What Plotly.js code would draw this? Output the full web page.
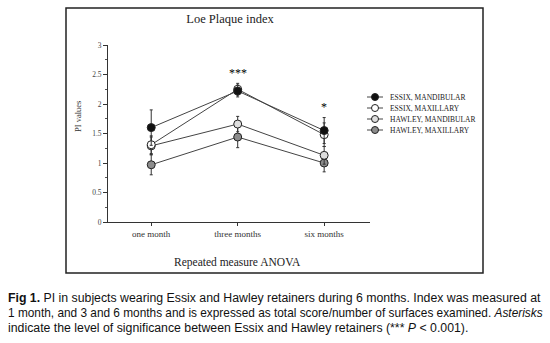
<!DOCTYPE html>
<html>
<head>
<meta charset="utf-8">
<script src="https://cdn.plot.ly/plotly-3.0.1.min.js"></script>
<style>html,body{margin:0;padding:0;background:#fff;}#chart{width:550px;height:343px;}</style>
</head>
<body>
<div id="chart"></div>
<script>
// ---- data ----
const categories = ["one month", "three months", "six months"];
const seriesNames = ["ESSIX, MANDIBULAR", "ESSIX, MAXILLARY", "HAWLEY, MANDIBULAR", "HAWLEY, MAXILLARY"];
const essixMandibular = [1.60, 2.22, 1.55];
const essixMaxillary = [1.31, 2.25, 1.48];
const hawleyMandibular = [1.29, 1.66, 1.13];
const hawleyMaxillary = [0.97, 1.44, 1.00];
const essixMandibularErr = [0.30, 0.10, 0.22];
const essixMaxillaryErr = [0.15, 0.10, 0.20];
const hawleyMandibularErr = [0.15, 0.13, 0.15];
const hawleyMaxillaryErr = [0.17, 0.18, 0.15];
const significance = [{cat: "three months", label: "***", y: 2.53}, {cat: "six months", label: "*", y: 1.95}];
const yTickVals = [0, 0.5, 1, 1.5, 2, 2.5, 3];
const yTickText = ["0", "0.5", "1", "1.5", "2", "2.5", "3"];

const values = [essixMandibular, essixMaxillary, hawleyMandibular, hawleyMaxillary];
const errors = [essixMandibularErr, essixMaxillaryErr, hawleyMandibularErr, hawleyMaxillaryErr];
const fills = ["#111111", "#ffffff", "#dedede", "#8c8c8c"];

// ---- layout geometry ----
const W = 550, H = 343;
const M = {l: 108, r: 180, t: 45, b: 121};
const PW = W - M.l - M.r, PH = H - M.t - M.b;
const px = x => (x - M.l) / PW;
const py = y => (H - M.b - y) / PH;

const serif = "Liberation Serif, Times New Roman, serif";
const sans = "Liberation Sans, Arial, sans-serif";

const traces = [];
for (let i = values.length - 1; i >= 0; i--) {
  traces.push({
    type: "scatter", mode: "lines+markers",
    x: categories, y: values[i], name: seriesNames[i],
    showlegend: false,
    line: {color: "#444", width: 1},
    marker: {symbol: "circle", size: 8, color: fills[i], line: {color: "#222", width: 1}},
    error_y: {type: "data", array: errors[i], visible: true, color: "#333", thickness: 1, width: 1.5}
  });
}

const shapes = [
  {type: "rect", xref: "paper", yref: "paper", x0: px(66), x1: px(483), y0: py(273), y1: py(8),
   line: {color: "#222", width: 1.5}, fillcolor: "rgba(0,0,0,0)", layer: "below"}
];
const annotations = [];

// manual legend
const legRows = [97, 108, 119, 130];
seriesNames.forEach((n, i) => {
  shapes.push({type: "line", xref: "paper", yref: "paper", x0: px(367), x1: px(383), y0: py(legRows[i]), y1: py(legRows[i]),
    line: {color: "#444", width: 1}});
  shapes.push({type: "circle", xref: "paper", yref: "paper", xsizemode: "pixel", ysizemode: "pixel",
    xanchor: px(375), yanchor: py(legRows[i]), x0: -3.5, x1: 3.5, y0: -3.5, y1: 3.5,
    fillcolor: fills[i], line: {color: "#222", width: 1}});
  annotations.push({xref: "paper", yref: "paper", x: px(388), y: py(legRows[i]), xanchor: "left", yanchor: "middle",
    text: n, showarrow: false, font: {family: serif, size: 7.5, color: "#222"}});
});

significance.forEach(s => annotations.push({x: s.cat, y: s.y, xref: "x", yref: "y", xanchor: "center", yanchor: "middle",
  text: s.label, showarrow: false, font: {family: serif, size: 12, color: "black"}}));

annotations.push({xref: "paper", yref: "paper", x: px(78), y: py(117), xanchor: "center", yanchor: "middle",
  text: "PI values", textangle: -90, showarrow: false, font: {family: serif, size: 8.5, color: "#333"}});
annotations.push({xref: "paper", yref: "paper", x: px(237), y: py(262), xanchor: "center", yanchor: "middle",
  text: "Repeated measure ANOVA", showarrow: false, font: {family: serif, size: 11.5, color: "#222"}});

const caption = [
  "<b>Fig 1.</b> PI in subjects wearing Essix and Hawley retainers during 6 months. Index was measured at",
  "1 month, and 3 and 6 months and is expressed as total score/number of surfaces examined. <i>Asterisks</i>",
  "indicate the level of significance between Essix and Hawley retainers (*** <i>P</i> < 0.001)."
];
const capY = [298, 313, 328];
const capSize = [12.3, 11.85, 12.3];
caption.forEach((t, i) => annotations.push({xref: "paper", yref: "paper", x: px(6), y: py(capY[i]),
  xanchor: "left", yanchor: "middle", text: t, showarrow: false, font: {family: sans, size: capSize[i], color: "#111"}}));

const layout = {
  width: W, height: H, margin: M, paper_bgcolor: "#fff", plot_bgcolor: "#fff",
  showlegend: false,
  title: {text: "Loe Plaque index", x: 230 / W, xanchor: "center", y: 1 - 19 / H, yanchor: "middle",
    font: {family: serif, size: 12.5, color: "#222"}},
  xaxis: {type: "category", categoryarray: categories, range: [-0.5, 2.53], showline: true, linecolor: "#333", linewidth: 1,
    ticks: "outside", ticklen: 3, tickcolor: "#333", showgrid: false, zeroline: false,
    tickfont: {family: serif, size: 9, color: "#333"}},
  yaxis: {range: [0, 3], showline: true, linecolor: "#333", linewidth: 1, ticks: "outside", ticklen: 4, tickcolor: "#333",
    tickvals: yTickVals, ticktext: yTickText, showgrid: false, zeroline: false,
    minor: {dtick: 0.25, ticks: "outside", ticklen: 2, tickcolor: "#555"},
    tickfont: {family: serif, size: 7.5, color: "#444"}},
  shapes: shapes, annotations: annotations
};

Plotly.newPlot("chart", traces, layout, {staticPlot: true, displayModeBar: false});
</script>
</body>
</html>
